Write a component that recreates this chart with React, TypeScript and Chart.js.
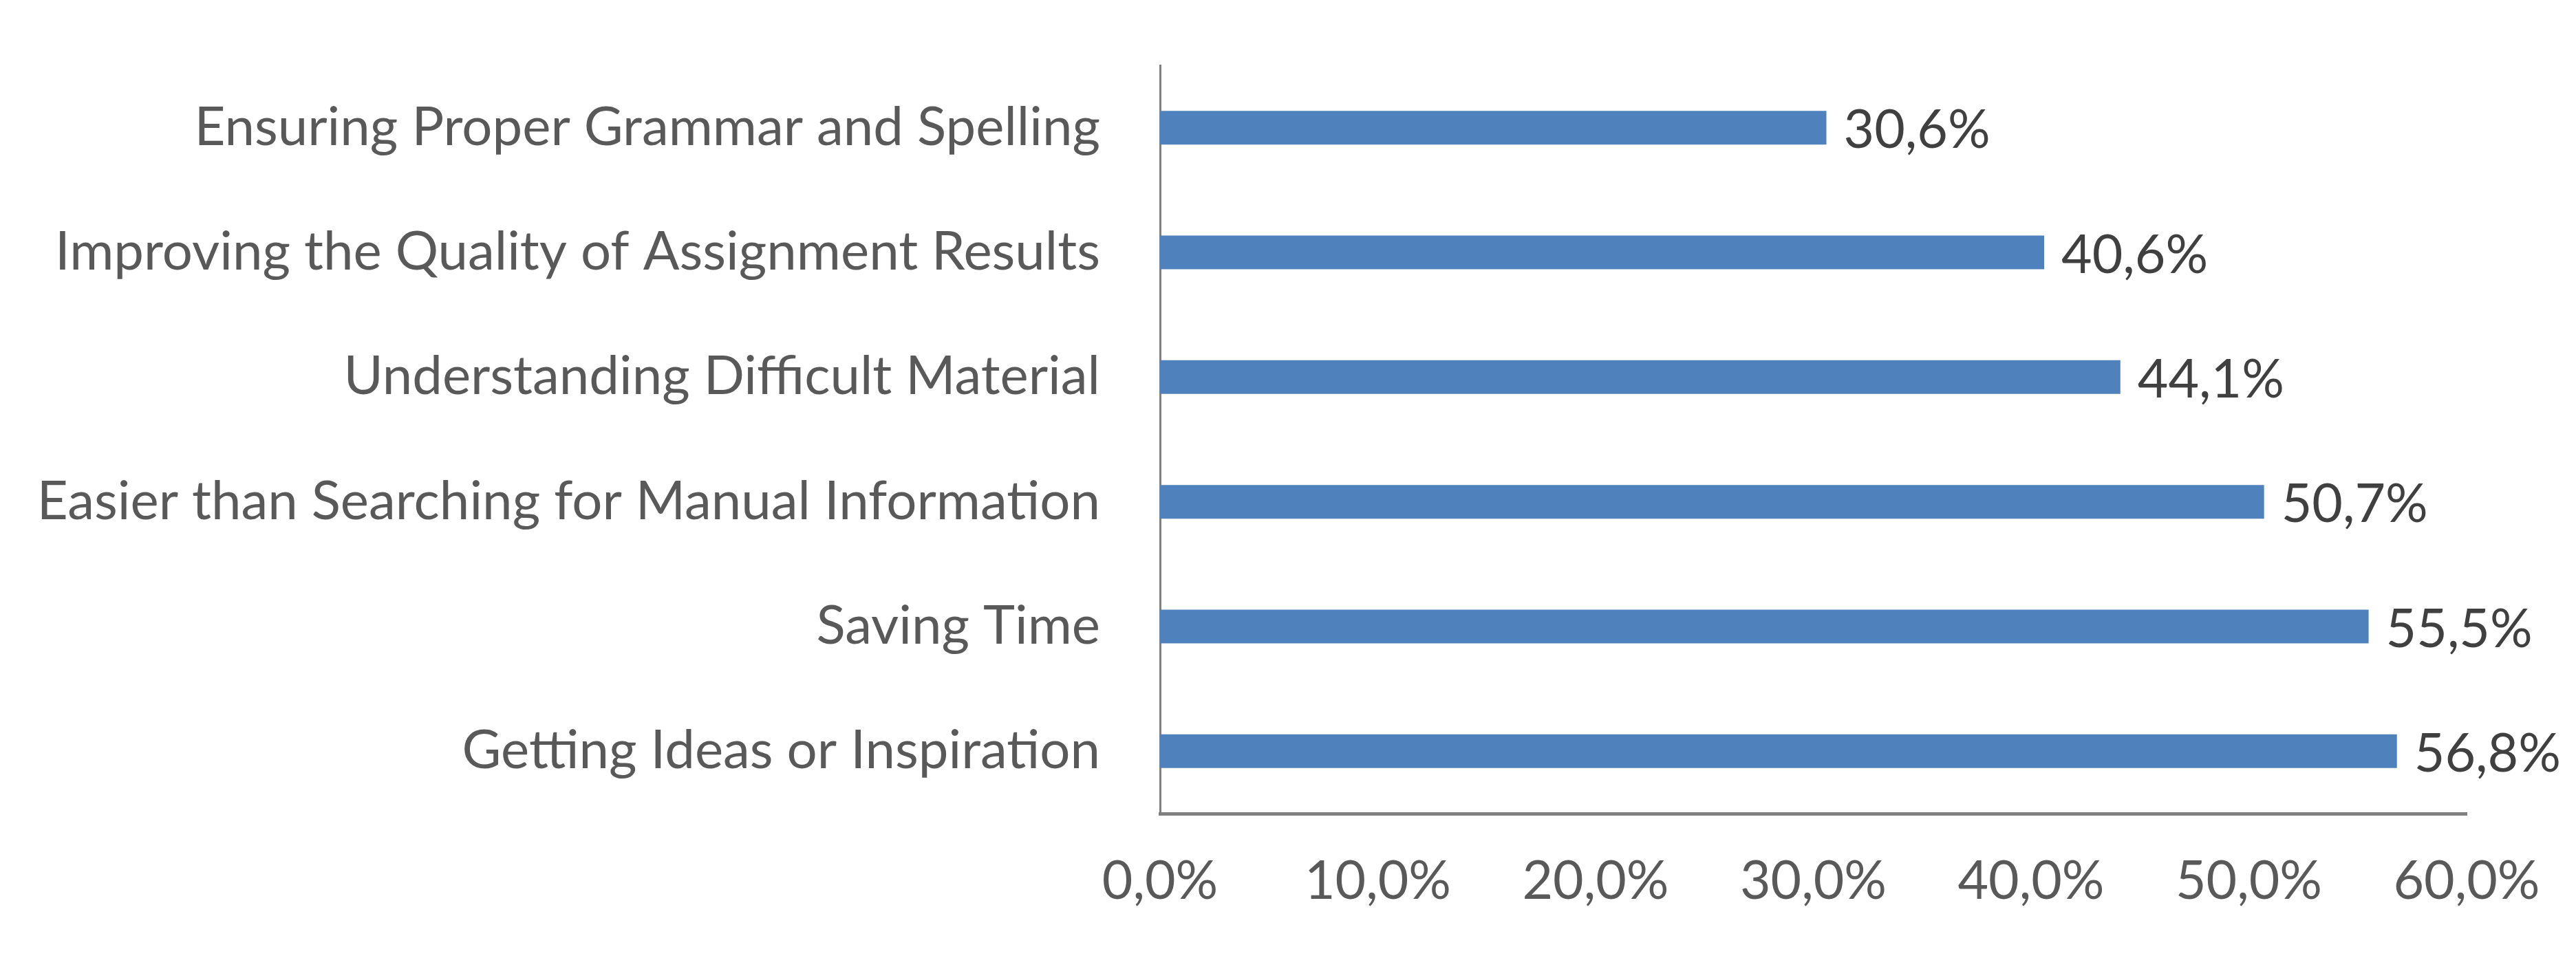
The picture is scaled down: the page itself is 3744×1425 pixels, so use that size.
import React, { useEffect, useRef } from "react";
import { Chart, registerables } from "chart.js";

Chart.register(...registerables);

const categories = [
  "Ensuring Proper Grammar and Spelling",
  "Improving the Quality of Assignment Results",
  "Understanding Difficult Material",
  "Easier than Searching for Manual Information",
  "Saving Time",
  "Getting Ideas or Inspiration",
];
const shares = [30.6, 40.6, 44.1, 50.7, 55.5, 56.8];
const xTicks = [0, 10, 20, 30, 40, 50, 60];

const FONT = "Lato, 'Open Sans', sans-serif";
const fmt = (v: number) => v.toFixed(1).replace(".", ",") + "%";

const valueLabels = {
  id: "valueLabels",
  afterDatasetsDraw(chart: Chart) {
    const ctx = chart.ctx;
    const meta = chart.getDatasetMeta(0);
    ctx.save();
    ctx.font = `77px ${FONT}`;
    ctx.fillStyle = "#404040";
    ctx.textAlign = "left";
    ctx.textBaseline = "middle";
    meta.data.forEach((bar: any, i: number) => {
      ctx.fillText(fmt(shares[i]), bar.x + 25, bar.y + 5);
    });
    ctx.restore();
  },
};

const App = () => {
  const canvasRef = useRef<HTMLCanvasElement | null>(null);
  const chartRef = useRef<Chart | null>(null);

  useEffect(() => {
    document.body.style.margin = "0";
    const ctx = canvasRef.current?.getContext("2d");
    if (!ctx) return;
    if (chartRef.current) chartRef.current.destroy();

    chartRef.current = new Chart(ctx, {
      type: "bar",
      data: {
        labels: categories,
        datasets: [
          {
            data: shares,
            backgroundColor: "#4F81BD",
            categoryPercentage: 1,
            barPercentage: 0.27,
          },
        ],
      },
      options: {
        indexAxis: "y",
        animation: false,
        responsive: true,
        maintainAspectRatio: false,
        layout: { padding: { top: 95, right: 159, left: 0, bottom: 0 } },
        scales: {
          x: {
            min: 0,
            max: 60,
            afterBuildTicks: (scale: any) => {
              scale.ticks = xTicks.map((v) => ({ value: v }));
            },
            afterFit: (scale: any) => {
              scale.height = 242;
              scale.paddingLeft = 0;
              scale.paddingRight = 0;
            },
            grid: { display: false },
            border: { display: true, color: "#808080", width: 5 },
            ticks: {
              color: "#595959",
              padding: 45,
              maxRotation: 0,
              font: { family: FONT, size: 77 },
              callback: (v: string | number) => fmt(Number(v)),
            },
          },
          y: {
            afterFit: (scale: any) => {
              scale.width = 1686;
              scale.paddingTop = 0;
              scale.paddingBottom = 0;
            },
            grid: { display: false },
            border: { display: true, color: "#808080", width: 3 },
            ticks: {
              color: "#595959",
              padding: 79,
              font: { family: FONT, size: 78 },
            },
          },
        },
        plugins: {
          legend: { display: false },
          tooltip: { enabled: false },
        },
      },
      plugins: [valueLabels],
    });

    return () => {
      chartRef.current?.destroy();
      chartRef.current = null;
    };
  }, []);

  return (
    <div style={{ width: 3744, height: 1425, background: "#fff" }}>
      <canvas ref={canvasRef} />
    </div>
  );
};

export default App;
